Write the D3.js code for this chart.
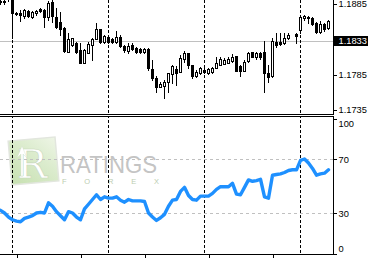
<!DOCTYPE html>
<html><head><meta charset="utf-8">
<script src="https://cdn.jsdelivr.net/npm/d3@7/dist/d3.min.js"></script>
<style>
html,body{margin:0;padding:0;background:#fff;overflow:hidden}
svg{display:block;font-family:"Liberation Sans",Arial,sans-serif}
</style></head><body>
<svg id="c" width="373" height="258"></svg>
<script>
// ---- data (EURUSD H1) ----
const open = [1.18892,1.18892,1.19048,1.18977,1.18718,1.18718,1.18680,1.18751,1.18670,1.18727,1.18775,1.18765,1.18662,1.18883,1.18670,1.18600,1.18506,1.18175,1.18270,1.18303,1.18199,1.18011,1.18161,1.18270,1.18351,1.18492,1.18317,1.18379,1.18351,1.18317,1.18387,1.18256,1.18189,1.18270,1.18223,1.18209,1.18175,1.18209,1.17926,1.17799,1.17680,1.17690,1.17751,1.17859,1.17926,1.17892,1.18068,1.18161,1.17987,1.17831,1.17869,1.17916,1.17869,1.17892,1.17940,1.17987,1.18001,1.18020,1.18048,1.18114,1.17973,1.17906,1.18048,1.18171,1.18104,1.18152,1.18175,1.17878,1.17831,1.18317,1.18317,1.18294,1.18365,null,1.18425,1.18482,1.18647,1.18670,1.18647,1.18577,1.18458,1.18567,1.18506];
const high = [1.18935,1.18921,1.19076,1.19020,1.18741,1.18765,1.18775,1.18765,1.18755,1.18765,1.18789,1.18775,1.18897,1.18907,1.18789,1.18741,1.18529,1.18435,1.18365,1.18317,1.18303,1.18213,1.18317,1.18365,1.18585,1.18492,1.18411,1.18397,1.18365,1.18472,1.18411,1.18270,1.18303,1.18294,1.18246,1.18223,1.18223,1.18223,1.18058,1.17831,1.17751,1.17775,1.17878,1.17987,1.17973,1.18128,1.18189,1.18161,1.17987,1.17916,1.17963,1.17940,1.17940,1.17963,1.18096,1.18096,1.18082,1.18104,1.18143,1.18114,1.17987,1.18058,1.18175,1.18175,1.18175,1.18171,1.18331,1.17987,1.18365,1.18435,1.18435,1.18435,1.18444,null,1.18435,1.18694,1.18694,1.18680,1.18670,1.18600,1.18614,1.18577,1.18624];
const low = [1.18850,1.18850,1.18892,1.18365,1.18694,1.18614,1.18647,1.18670,1.18656,1.18694,1.18737,1.18529,1.18624,1.18600,1.18506,1.18411,1.18175,1.18175,1.18256,1.18161,1.18011,1.18011,1.18152,1.18058,1.18351,1.18294,1.18303,1.18303,1.18303,1.18294,1.18246,1.18175,1.18152,1.18199,1.18152,1.18161,1.18161,1.17916,1.17775,1.17609,1.17671,1.17524,1.17609,1.17728,1.17704,1.17892,1.18034,1.17940,1.17799,1.17813,1.17859,1.17869,1.17859,1.17878,1.17940,1.17987,1.18001,1.18011,1.18034,1.17906,1.17831,1.17906,1.18034,1.18100,1.18068,1.18072,1.17609,1.17751,1.17821,1.18246,1.18270,1.18284,1.18351,null,1.18303,1.18435,1.18624,1.18585,1.18553,1.18444,1.18444,1.18472,1.18492];
const close = [1.18878,1.18878,1.19020,1.18727,1.18704,1.18690,1.18765,1.18684,1.18741,1.18755,1.18751,1.18662,1.18868,1.18680,1.18529,1.18492,1.18189,1.18355,1.18365,1.18175,1.18011,1.18199,1.18280,1.18351,1.18492,1.18317,1.18397,1.18317,1.18317,1.18379,1.18256,1.18199,1.18256,1.18209,1.18175,1.18175,1.18209,1.17940,1.17799,1.17671,1.17718,1.17751,1.17869,1.17973,1.17878,1.18082,1.18161,1.17987,1.17831,1.17892,1.17940,1.17892,1.17926,1.17949,1.18020,1.18068,1.18058,1.18068,1.18104,1.17906,1.17906,1.18034,1.18152,1.18104,1.18152,1.18100,1.17869,1.17821,1.18331,1.18270,1.18284,1.18365,1.18411,null,1.18397,1.18662,1.18680,1.18647,1.18567,1.18458,1.18567,1.18492,1.18614];
const rsi = [32,30,27,25,24,23.5,26,27,28,30,30.5,30,37.5,35,31,28,25,31,30,27,25,33,36.5,40,43.5,40,42,41,41,42,39.5,38,40,39,39,39,38.5,30,27,24.5,26.5,29,35,39.5,40,46,49,43,40,39.5,42.5,42.5,42.5,44.5,47.5,49.5,49.5,49.5,52,44,43.5,49,54.5,53.5,54,55,42,41,58,58.5,59,60,61.5,62,62,69,70,67,63,58,59,59.5,62];
const bars = d3.range(open.length);           // hourly bar index
const priceTicks = [1.1885, 1.1785, 1.1735];
const markedLevel = 1.1833;
const rsiLevels = [70, 30];
const rsiTicks = [100, 70, 30, 0];
const separatorBars = [3, 27, 51, 75];         // day separators
const timeTickBars = [4, 20, 36, 52, 68];      // time-axis ticks

// ---- layout ----
const svg = d3.select("#c");
const axisX = 333;
const FS = 9.3;
const x = d3.scaleBand().domain(bars).range([-2, 330]).padding(0);
const cx = i => x(i) + 2;                      // candle pixel column
const y = d3.scaleLinear().domain([1.1735, 1.1885]).range([110, 4]);
const yr = d3.scaleLinear().domain([0, 100]).range([253.5, 118.5]);

const defs = svg.append("defs");
defs.append("clipPath").attr("id","top").append("rect")
  .attr("x",0).attr("y",0).attr("width",axisX).attr("height",114);
defs.append("clipPath").attr("id","bot").append("rect")
  .attr("x",0).attr("y",117).attr("width",axisX).attr("height",137);

// ---- watermark logo ----
const grad = defs.append("linearGradient").attr("id","lg")
  .attr("x1","0").attr("y1","1").attr("x2","1").attr("y2","0");
grad.append("stop").attr("offset","0").attr("stop-color","#c6e0b0");
grad.append("stop").attr("offset","0.6").attr("stop-color","#dcecce");
grad.append("stop").attr("offset","1").attr("stop-color","#eef5e6");
const logo = svg.append("g");
logo.append("rect").attr("x",10).attr("y",139).attr("width",47).attr("height",44)
  .attr("fill","url(#lg)").attr("stroke","#e2e6de").attr("stroke-width",1.5)
  .attr("transform","rotate(-5 33 161)");
logo.append("text").attr("x",32).attr("y",178).attr("text-anchor","middle")
  .attr("font-family","'DejaVu Serif',serif").attr("font-size",40)
  .attr("fill","#ffffff").attr("stroke","#c9d9bd").attr("stroke-width",0.7).text("R");
logo.append("path").attr("d","M21 176 L21 154 L17 158 L22 146 L27 158 L23 154 L23 176 Z")
  .attr("fill","#ffffff").attr("stroke","#d0dec6").attr("stroke-width",0.4);
logo.append("text").attr("x",60).attr("y",172.5).attr("font-size",24)
  .attr("textLength",97).attr("lengthAdjust","spacingAndGlyphs")
  .attr("fill","#c4c4c4").text("RATINGS");
logo.append("text").attr("x",62).attr("y",184).attr("font-size",7.5)
  .attr("textLength",97).attr("fill","#bccdb0").text("F     O     R     E     X");

// ---- grid & separators ----
const gTop = svg.append("g").attr("clip-path","url(#top)").attr("shape-rendering","crispEdges");
const gBot = svg.append("g").attr("clip-path","url(#bot)").attr("shape-rendering","crispEdges");

gTop.append("line").attr("x1",0).attr("x2",axisX).attr("y1",Math.round(y(markedLevel))+0.5)
  .attr("y2",Math.round(y(markedLevel))+0.5).attr("stroke","#c0c0c0");
gBot.selectAll("line.lvl").data(rsiLevels).join("line").attr("class","lvl")
  .attr("x1",0).attr("x2",axisX).attr("y1",d=>Math.round(yr(d))+0.5).attr("y2",d=>Math.round(yr(d))+0.5)
  .attr("stroke","#c0c0c0").attr("stroke-dasharray","3,3");

[gTop, gBot].forEach(g => g.selectAll("line.sep").data(separatorBars).join("line").attr("class","sep")
  .attr("x1",d=>cx(d)+0.5).attr("x2",d=>cx(d)+0.5).attr("y1",0).attr("y2",258)
  .attr("stroke","#000").attr("stroke-dasharray","3,2"));

// ---- candles ----
const cd = bars.filter(i => open[i] !== null);
gTop.selectAll("line.wick").data(cd).join("line").attr("class","wick")
  .attr("x1",i=>cx(i)+0.5).attr("x2",i=>cx(i)+0.5)
  .attr("y1",i=>Math.round(y(high[i]))).attr("y2",i=>Math.round(y(low[i]))+1)
  .attr("stroke","#000");
cd.forEach(i => {
  const t = Math.round(y(Math.max(open[i], close[i])));
  const b = Math.round(y(Math.min(open[i], close[i])));
  if (close[i] < open[i]) {
    gTop.append("rect").attr("x",cx(i)-1).attr("y",t).attr("width",3).attr("height",Math.max(1,b-t+1)).attr("fill","#000");
  } else {
    gTop.append("rect").attr("x",cx(i)-0.5).attr("y",t+0.5).attr("width",2).attr("height",Math.max(0,b-t))
      .attr("fill","#fff").attr("stroke","#000");
  }
});

// ---- RSI line ----
svg.append("g").attr("clip-path","url(#bot)").append("path").datum(bars)
  .attr("d", d3.line().x(i=>cx(i)+0.5).y(i=>yr(rsi[i])))
  .attr("fill","none").attr("stroke","#1e90ff").attr("stroke-width",3.4)
  .attr("stroke-linejoin","round").attr("stroke-linecap","round");

// ---- frames ----
const fr = svg.append("g").attr("shape-rendering","crispEdges").attr("stroke","#000");
fr.append("line").attr("x1",0).attr("x2",axisX+0.5).attr("y1",114.5).attr("y2",114.5);
fr.append("line").attr("x1",0).attr("x2",axisX+0.5).attr("y1",116.5).attr("y2",116.5);
fr.append("line").attr("x1",0).attr("x2",axisX+0.5).attr("y1",254.5).attr("y2",254.5);

// ---- axes ----
const pa = svg.append("g").attr("transform",`translate(${axisX+0.5},0)`)
  .call(d3.axisRight(y).tickValues(priceTicks).tickSize(3).tickSizeOuter(0).tickFormat(d3.format(".4f")));
pa.select(".domain").attr("d","M0,0V114.5");
pa.selectAll("text").attr("x",5).attr("font-size",FS).attr("font-family","'Liberation Sans',Arial,sans-serif").attr("fill","#000");
pa.selectAll("line,path").attr("stroke","#000").attr("shape-rendering","crispEdges");

const mk = svg.append("g");
mk.append("rect").attr("x",axisX).attr("y",36).attr("width",35).attr("height",10).attr("fill","#000");
mk.append("text").attr("x",axisX+5.5).attr("y",y(markedLevel)).attr("dy","0.35em").attr("font-size",FS)
  .attr("fill","#fff").text(d3.format(".4f")(markedLevel));

const ra = svg.append("g").attr("transform",`translate(${axisX+0.5},0)`)
  .call(d3.axisRight(yr).tickValues(rsiTicks).tickSize(3).tickSizeOuter(0));
ra.select(".domain").attr("d","M0,116.5V254.5");
ra.selectAll("text").attr("x",5).attr("font-size",FS).attr("font-family","'Liberation Sans',Arial,sans-serif").attr("fill","#000")
  .attr("dy", d => d===100 ? "0.85em" : d===0 ? "-0.2em" : "0.35em");
ra.selectAll("line,path").attr("stroke","#000").attr("shape-rendering","crispEdges");

const ta = svg.append("g").attr("transform","translate(0,254.5)")
  .call(d3.axisBottom(d3.scaleLinear().domain([-2,330]).range([-2,330])).tickValues(timeTickBars.map(i=>cx(i)+0.5)).tickSize(4).tickFormat(""));
ta.select(".domain").remove();
ta.selectAll("line").attr("stroke","#000").attr("shape-rendering","crispEdges");
</script></body></html>
